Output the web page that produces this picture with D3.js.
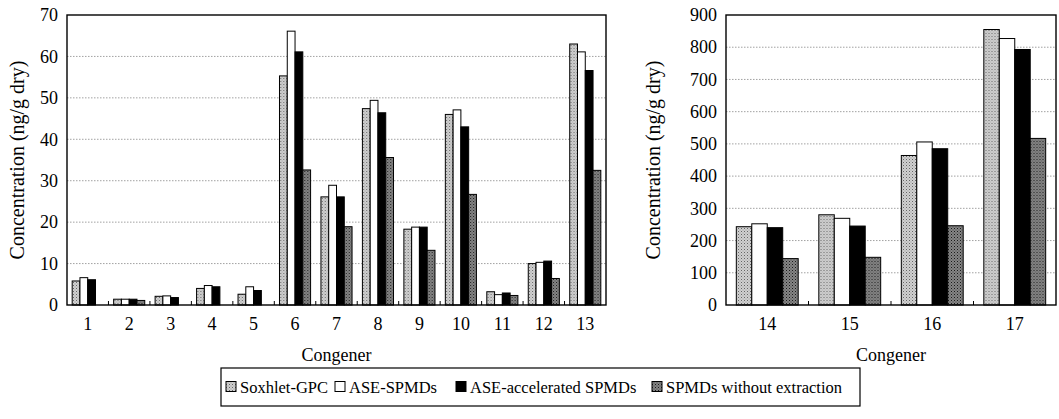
<!DOCTYPE html>
<html>
<head>
<meta charset="utf-8">
<script src="https://cdn.jsdelivr.net/npm/d3@7"></script>
<style>
  html, body { margin: 0; padding: 0; background: #fff; }
  svg { display: block; }
  svg text { font-family: "Liberation Serif", "Times New Roman", Tinos, serif !important; }
</style>
</head>
<body>
<svg id="chart" width="1059" height="419" font-family="Liberation Serif"></svg>
<script>
// series names (legend order)
const seriesNames = ["Soxhlet-GPC", "ASE-SPMDs", "ASE-accelerated SPMDs", "SPMDs without extraction"];

// left panel: congeners 1-13
const congenersA = ["1", "2", "3", "4", "5", "6", "7", "8", "9", "10", "11", "12", "13"];
const soxhletA = [5.8, 1.4, 2.1, 4.0, 2.6, 55.3, 26.1, 47.4, 18.3, 46.0, 3.2, 10.0, 63.0];
const aseA = [6.6, 1.4, 2.2, 4.7, 4.4, 66.1, 28.9, 49.4, 18.8, 47.1, 2.5, 10.3, 61.1];
const accelA = [6.1, 1.4, 1.8, 4.4, 3.5, 61.1, 26.1, 46.4, 18.8, 43.0, 2.9, 10.6, 56.6];
const withoutA = [0, 1.1, 0, 0, 0, 32.6, 18.9, 35.6, 13.2, 26.7, 2.3, 6.4, 32.5];
const yTicksA = [0, 10, 20, 30, 40, 50, 60, 70];

// right panel: congeners 14-17
const congenersB = ["14", "15", "16", "17"];
const soxhletB = [243, 280, 464, 855];
const aseB = [252, 269, 506, 827];
const accelB = [240, 245, 485, 793];
const withoutB = [144, 148, 246, 517];
const yTicksB = [0, 100, 200, 300, 400, 500, 600, 700, 800, 900];

const FONT = "Liberation Serif";

const svg = d3.select("#chart");
const defs = svg.append("defs");

// halftone-like fills
function stipple(id, bg, dot, dot2) {
  const p = defs.append("pattern").attr("id", id)
    .attr("patternUnits", "userSpaceOnUse").attr("width", 3).attr("height", 3);
  p.append("rect").attr("width", 3).attr("height", 3).attr("fill", bg);
  p.append("rect").attr("x", 0).attr("y", 0).attr("width", 1).attr("height", 1).attr("fill", dot);
  p.append("rect").attr("x", 1.5).attr("y", 1.5).attr("width", 1).attr("height", 1).attr("fill", dot2);
}
stipple("pSox", "#d0d0d0", "#666", "#999");
stipple("pWithout", "#858585", "#1a1a1a", "#404040");

const fills = ["url(#pSox)", "#ffffff", "#000000", "url(#pWithout)"];
const color = d3.scaleOrdinal().domain(seriesNames).range(fills);

function drawPanel(g, cfg) {
  const { left, right, top, bottom, congeners, series, yMax, yTicks } = cfg;

  const x0 = d3.scaleBand().domain(congeners).range([left, right]).padding(0);
  const x1 = d3.scaleBand().domain(seriesNames)
    .range([x0.bandwidth() * 0.125, x0.bandwidth() * 0.875]).padding(0);
  const y = d3.scaleLinear().domain([0, yMax]).range([bottom, top]);

  // gridlines
  g.append("g")
    .selectAll("line")
    .data(yTicks.filter((t) => t > 0 && t < yMax))
    .join("line")
    .attr("x1", left).attr("x2", right)
    .attr("y1", (d) => y(d)).attr("y2", (d) => y(d))
    .attr("stroke", "#8a8a8a")
    .attr("stroke-width", 0.8)
    .attr("stroke-dasharray", "1.5,1.5");

  // bars
  const data = congeners.map((c, i) => ({
    congener: c,
    values: seriesNames.map((s, k) => ({ series: s, value: series[k][i] })),
  }));

  g.append("g")
    .selectAll("g")
    .data(data)
    .join("g")
    .attr("transform", (d) => `translate(${x0(d.congener)},0)`)
    .selectAll("rect")
    .data((d) => d.values.filter((v) => v.value > 0))
    .join("rect")
    .attr("x", (d) => x1(d.series))
    .attr("width", x1.bandwidth())
    .attr("y", (d) => y(d.value))
    .attr("height", (d) => y(0) - y(d.value))
    .attr("fill", (d) => color(d.series))
    .attr("stroke", "#000")
    .attr("stroke-width", 1);

  // frame
  g.append("rect")
    .attr("x", left).attr("y", top)
    .attr("width", right - left).attr("height", bottom - top)
    .attr("fill", "none")
    .attr("stroke", "#000")
    .attr("stroke-width", 1.4);

  // small ticks between groups
  g.append("g")
    .selectAll("line")
    .data(congeners.slice(1))
    .join("line")
    .attr("x1", (d) => x0(d)).attr("x2", (d) => x0(d))
    .attr("y1", bottom).attr("y2", bottom - 4)
    .attr("stroke", "#000")
    .attr("stroke-width", 1);

  // y axis labels
  const yAxis = g.append("g")
    .attr("transform", `translate(${left},0)`)
    .call(d3.axisLeft(y).tickValues(yTicks).tickSize(0).tickPadding(9).tickFormat(d3.format("d")));
  yAxis.attr("font-family", FONT).attr("font-size", 18);
  yAxis.select(".domain").remove();
  yAxis.selectAll("text").attr("fill", "#000");

  // x axis labels
  const xAxis = g.append("g")
    .attr("transform", `translate(0,${bottom})`)
    .call(d3.axisBottom(x0).tickSize(0).tickPadding(12));
  xAxis.attr("font-family", FONT).attr("font-size", 18);
  xAxis.select(".domain").remove();
  xAxis.selectAll("text").attr("fill", "#000");

  // axis titles
  g.append("text")
    .attr("x", (left + right) / 2)
    .attr("y", bottom + 56)
    .attr("text-anchor", "middle")
    .attr("font-family", FONT)
    .attr("font-size", 18)
    .text("Congener");

  g.append("text")
    .attr("transform", `translate(${cfg.titleX},${(top + bottom) / 2}) rotate(-90)`)
    .attr("text-anchor", "middle")
    .attr("font-family", FONT)
    .attr("font-size", 20)
    .text("Concentration (ng/g dry)");
}

drawPanel(svg.append("g"), {
  left: 67, right: 606, top: 15, bottom: 305,
  congeners: congenersA,
  series: [soxhletA, aseA, accelA, withoutA],
  yMax: 70, yTicks: yTicksA, titleX: 24,
});

drawPanel(svg.append("g"), {
  left: 726, right: 1056, top: 15, bottom: 305,
  congeners: congenersB,
  series: [soxhletB, aseB, accelB, withoutB],
  yMax: 900, yTicks: yTicksB, titleX: 660,
});

// legend
const legend = svg.append("g");
legend.append("rect")
  .attr("x", 221).attr("y", 368).attr("width", 639).attr("height", 38)
  .attr("fill", "#fff").attr("stroke", "#000").attr("stroke-width", 1.2);

const legendX = [226, 335, 456, 652];
const items = legend.selectAll("g")
  .data(seriesNames)
  .join("g")
  .attr("transform", (d, i) => `translate(${legendX[i]},387)`);
items.append("rect")
  .attr("x", 0).attr("y", -5.5).attr("width", 10).attr("height", 10)
  .attr("fill", (d) => color(d))
  .attr("stroke", "#000").attr("stroke-width", 1);
items.append("text")
  .attr("x", 14).attr("y", 5.5)
  .attr("font-family", FONT)
  .attr("font-size", 16.5)
  .text((d) => d);
</script>
</body>
</html>
